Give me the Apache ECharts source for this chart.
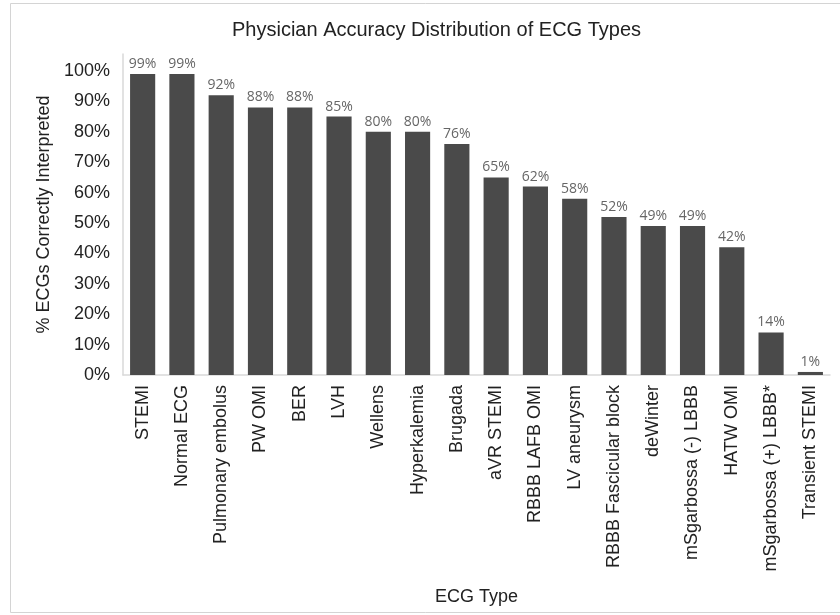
<!DOCTYPE html>
<html>
<head>
<meta charset="utf-8">
<script src="https://cdn.jsdelivr.net/npm/echarts@6/dist/echarts.min.js"></script>
<style>
	html, body { margin: 0; padding: 0; background: #fff; }
	#chart { width: 840px; height: 615px; }
</style>
</head>
<body>
<div id="chart"></div>
<script>
const ecgTypes = [
	"STEMI", "Normal ECG", "Pulmonary embolus", "PW OMI", "BER", "LVH",
	"Wellens", "Hyperkalemia", "Brugada", "aVR STEMI", "RBBB LAFB OMI",
	"LV aneurysm", "RBBB Fascicular block", "deWinter", "mSgarbossa (-) LBBB",
	"HATW OMI", "mSgarbossa (+) LBBB*", "Transient STEMI",
]
const accuracy = [99, 99, 92, 88, 88, 85, 80, 80, 76, 65, 62, 58, 52, 49, 49, 42, 14, 1]

const textFont = "'Liberation Sans', Arial, sans-serif"

let chartDom = document.getElementById("chart")
let chart = echarts.init(chartDom)
let option = {
	animation: false,
	backgroundColor: "#fff",
	title: {
		text: "Physician Accuracy Distribution of ECG Types",
		left: 227,
		top: 15,
		textStyle: { fontFamily: textFont, fontSize: 20, fontWeight: "normal", color: "#222" },
	},
	graphic: [
		{
			type: "rect",
			shape: { x: 10.5, y: 3.5, width: 840, height: 609 },
			style: { fill: "none", stroke: "#d4d4d4", lineWidth: 1 },
			silent: true,
		},
	],
	grid: {
		left: 123,
		right: 10,
		top: 54,
		bottom: 240,
	},
	xAxis: {
		type: "category",
		data: ecgTypes,
		name: "ECG Type",
		nameLocation: "middle",
		nameGap: 213,
		nameTextStyle: { fontFamily: textFont, fontSize: 18, color: "#222" },
		axisLine: { lineStyle: { color: "#d9d9d9", width: 1.5 } },
		axisTick: { show: false },
		axisLabel: {
			rotate: 90,
			interval: 0,
			margin: 10,
			fontFamily: textFont,
			fontSize: 18,
			color: "#222",
		},
	},
	yAxis: {
		type: "value",
		min: 0,
		max: 105.6,
		interval: 10,
		name: "% ECGs Correctly Interpreted",
		nameLocation: "middle",
		nameGap: 68,
		nameTextStyle: { fontFamily: textFont, fontSize: 18, color: "#222" },
		axisLine: { show: true, lineStyle: { color: "#d9d9d9", width: 1.5 } },
		axisTick: { show: false },
		splitLine: { show: false },
		axisLabel: {
			margin: 13,
			fontFamily: textFont,
			fontSize: 18,
			color: "#222",
			formatter: function(v) {
				return v > 100 ? "" : v + "%"
			},
		},
	},
	series: [
		{
			type: "bar",
			data: accuracy,
			barCategoryGap: "36%",
			itemStyle: { color: "#4a4a4a" },
			label: {
				show: true,
				position: "top",
				distance: 3,
				formatter: "{c}%",
				fontFamily: "'Open Sans', sans-serif",
				fontSize: 14,
				color: "#666",
			},
		},
	],
}
chart.setOption(option)
</script>
</body>
</html>
